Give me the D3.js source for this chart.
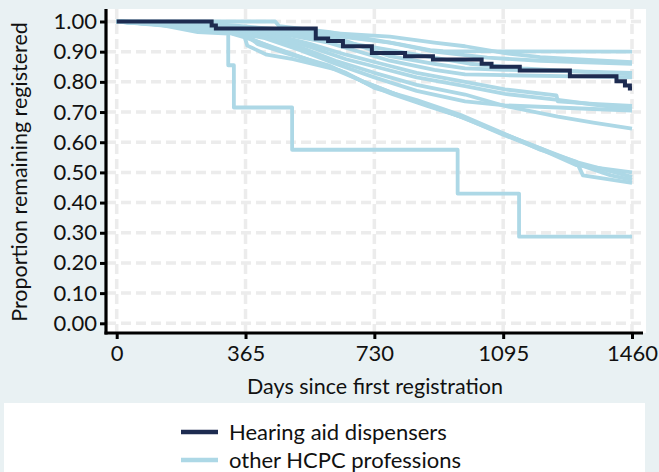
<!DOCTYPE html>
<html><head><meta charset="utf-8">
<script src="https://cdn.jsdelivr.net/npm/d3@7"></script>
<style>
body{margin:0;background:#e9f1f3;}
svg{display:block;font-family:Lato,"Open Sans",sans-serif;}
</style>
</head><body><svg id="c" width="659" height="472"></svg>
<script>
// ---- data ----
const xTicks = [0, 365, 730, 1095, 1460];
const yTicks = [0, 0.1, 0.2, 0.3, 0.4, 0.5, 0.6, 0.7, 0.8, 0.9, 1.0];
const yTickLabels = ["0.00","0.10","0.20","0.30","0.40","0.50","0.60","0.70","0.80","0.90","1.00"];
const xTitle = "Days since first registration";
const yTitle = "Proportion remaining registered";
const legendLabels = ["Hearing aid dispensers", "other HCPC professions"];

// Hearing aid dispensers (Kaplan-Meier steps: [day, proportion])
const hearingAid = [[0,1.0],[269,0.987],[281,0.977],[564,0.944],[599,0.935],[641,0.918],[723,0.896],[817,0.885],[896,0.874],[1034,0.86],[1062,0.85],[1142,0.838],[1284,0.819],[1416,0.802],[1440,0.788],[1454,0.778],[1460,0.778]];

// other HCPC professions, one array per profession: [day, proportion]
const otherA1 = [[0,1],[449,1],[460,0.985],[605,0.965],[700,0.945],[800,0.925],[888,0.905],[925,0.902],[1460,0.90]];
const otherA2 = [[0,1],[250,0.995],[400,0.98],[600,0.962],[774,0.95],[900,0.93],[987,0.918],[1100,0.895],[1200,0.882],[1350,0.872],[1460,0.865]];
const otherA3 = [[0,1],[200,0.99],[365,0.98],[500,0.965],[650,0.935],[774,0.885],[900,0.86],[987,0.845],[1100,0.84],[1300,0.835],[1460,0.83]];
const otherA4 = [[0,1],[150,0.99],[300,0.975],[476,0.957],[600,0.93],[774,0.87],[900,0.84],[987,0.825],[1100,0.822],[1300,0.818],[1460,0.815]];
const otherA5 = [[0,1],[200,0.99],[400,0.975],[600,0.955],[774,0.93],[900,0.9],[1050,0.88],[1200,0.87],[1460,0.86]];
const otherA6 = [[0,1],[150,0.99],[365,0.975],[550,0.95],[700,0.92],[850,0.89],[1000,0.86],[1150,0.845],[1300,0.835],[1460,0.825]];
const otherB1 = [[0,1],[150,0.99],[300,0.975],[450,0.955],[550,0.925],[650,0.89],[750,0.86],[850,0.83],[987,0.80],[1100,0.775],[1246,0.755],[1250,0.735],[1350,0.727],[1460,0.72]];
const otherB2 = [[0,1],[150,0.99],[300,0.97],[450,0.95],[550,0.915],[650,0.875],[750,0.845],[850,0.815],[987,0.786],[1100,0.76],[1250,0.74],[1350,0.725],[1460,0.71]];
const otherC1 = [[0,1],[120,0.99],[280,0.97],[420,0.95],[520,0.915],[620,0.87],[730,0.83],[850,0.79],[987,0.758],[1100,0.72],[1250,0.685],[1350,0.665],[1460,0.645]];
const otherC2 = [[0,1],[150,0.99],[300,0.97],[420,0.945],[520,0.905],[620,0.86],[730,0.815],[850,0.77],[987,0.735],[1100,0.722],[1250,0.715],[1350,0.71],[1460,0.705]];
const otherD1 = [[0,1],[100,0.995],[200,0.985],[300,0.97],[360,0.957],[370,0.92],[425,0.89],[500,0.875],[632,0.838],[717,0.79],[780,0.76],[880,0.72],[975,0.685],[1095,0.625],[1208,0.573],[1303,0.524],[1460,0.50]];
const otherD2 = [[0,1],[100,0.99],[250,0.975],[365,0.955],[400,0.925],[480,0.895],[600,0.855],[700,0.80],[800,0.755],[900,0.715],[1000,0.675],[1100,0.625],[1200,0.58],[1300,0.535],[1460,0.485]];
const otherD3 = [[0,1],[150,0.99],[300,0.97],[365,0.95],[450,0.91],[550,0.87],[650,0.83],[730,0.78],[850,0.74],[975,0.69],[1095,0.63],[1200,0.575],[1303,0.535],[1321,0.49],[1460,0.465]];
const otherD4 = [[0,1],[120,0.99],[280,0.975],[370,0.945],[480,0.9],[600,0.85],[700,0.80],[800,0.755],[950,0.695],[1080,0.635],[1200,0.58],[1300,0.53],[1400,0.49],[1460,0.475]];
const otherE  = [[0,1],[120,0.99],[230,0.965],[316,0.96],[316,0.855],[332,0.855],[332,0.715],[497,0.715],[497,0.575],[966,0.575],[966,0.43],[1140,0.43],[1140,0.287],[1460,0.287]];
const otherProfessions = [otherA1,otherA2,otherA3,otherA4,otherA5,otherA6,otherB1,otherB2,otherC1,otherC2,otherD1,otherD2,otherD3,otherD4,otherE];

// ---- drawing ----
const svg = d3.select("#c");
const W = 659, H = 472;
const colDark = "#1d2b50", colLight = "#add8e6", grid = "#ececec";

svg.append("rect").attr("width", W).attr("height", H).attr("fill", "#e9f1f3");
// plot region
const pr = {l:106, t:9, r:646, b:333};
svg.append("rect").attr("x", pr.l).attr("y", pr.t).attr("width", pr.r-pr.l).attr("height", pr.b-pr.t).attr("fill", "#fff");

const x = d3.scaleLinear().domain([0,1460]).range([116.7, 632]);
const y = d3.scaleLinear().domain([0,1]).range([323.3, 21.5]);

// grid
const g = svg.append("g");
g.selectAll("line.h").data(yTicks).join("line")
  .attr("x1", pr.l).attr("x2", pr.r).attr("y1", d=>y(d)).attr("y2", d=>y(d))
  .attr("stroke", grid).attr("stroke-width", 3.5).attr("stroke-dasharray", "10,5");
g.selectAll("line.v").data(xTicks).join("line")
  .attr("y1", pr.t).attr("y2", pr.b).attr("x1", d=>x(d)).attr("x2", d=>x(d))
  .attr("stroke", grid).attr("stroke-width", 3.5).attr("stroke-dasharray", "10,5");

// curves
const lineLin = d3.line().x(d=>x(d[0])).y(d=>y(d[1]));
const lineStep = d3.line().x(d=>x(d[0])).y(d=>y(d[1])).curve(d3.curveStepAfter);
svg.append("g").selectAll("path").data(otherProfessions).join("path")
  .attr("d", lineLin).attr("fill","none").attr("stroke", colLight)
  .attr("stroke-width", 3.8).attr("stroke-linejoin","round");
svg.append("path").datum(hearingAid).attr("d", lineStep).attr("fill","none")
  .attr("stroke", colDark).attr("stroke-width", 4);

// axes
const yAxis = d3.axisLeft(y).tickValues(yTicks).tickFormat((d,i)=>yTickLabels[i]).tickSize(6).tickPadding(3);
const ya = svg.append("g").attr("transform", `translate(${pr.l},0)`).call(yAxis);
const xAxis = d3.axisBottom(x).tickValues(xTicks).tickFormat(d3.format("d")).tickSize(6).tickPadding(6);
const xa = svg.append("g").attr("transform", `translate(0,${pr.b})`).call(xAxis);
[ya, xa].forEach(a => {
  a.select(".domain").remove();
  a.selectAll(".tick line").attr("stroke", "#000").attr("stroke-width", 3);
  a.selectAll(".tick text").attr("fill", "#111").style("font-size", "22px").style("font-family", "Lato");
});
svg.append("line").attr("x1", pr.l).attr("x2", pr.l).attr("y1", pr.t).attr("y2", pr.b+1.5).attr("stroke","#000").attr("stroke-width",3.2);
svg.append("line").attr("x1", pr.l-1.5).attr("x2", 643).attr("y1", pr.b).attr("y2", pr.b).attr("stroke","#000").attr("stroke-width",3.2);

// titles
svg.append("text").attr("x", 375).attr("y", 394).attr("text-anchor","middle")
  .style("font-size","21.5px").attr("fill","#111").text(xTitle);
svg.append("text").attr("transform", "translate(27,172) rotate(-90)").attr("text-anchor","middle")
  .style("font-size","21.5px").attr("fill","#111").text(yTitle);

// legend
svg.append("rect").attr("x", 4).attr("y", 403).attr("width", 641).attr("height", 80).attr("fill", "#fff");
const leg = svg.append("g").selectAll("g").data(legendLabels).join("g")
  .attr("transform", (d,i)=>`translate(0,${432 + i*28})`);
leg.append("line").attr("x1",181).attr("x2",218).attr("y1",0).attr("y2",0)
  .attr("stroke",(d,i)=> i===0 ? colDark : colLight).attr("stroke-width",4.5);
leg.append("text").attr("x",229).attr("y",8).style("font-size","22px").attr("fill","#111").text(d=>d);
</script>
</body></html>
